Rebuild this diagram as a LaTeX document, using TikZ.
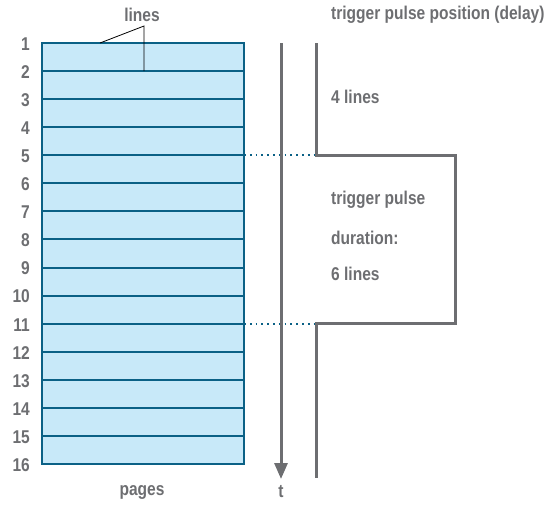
\documentclass[tikz,border=0pt]{standalone}
\usepackage{fontspec}
\newfontfamily\lblfont{Liberation Sans Bold}[FakeStretch=0.84]
\usetikzlibrary{arrows.meta}
\definecolor{txtgray}{HTML}{6D6E71}
\definecolor{tblue}{HTML}{0B6186}
\definecolor{tfill}{HTML}{C8E9F9}
\tikzset{
  lbl/.style={text=txtgray, font=\lblfont\fontsize{18.5}{21}\selectfont, inner sep=0pt},
  num/.style={lbl, anchor=east},
  sig/.style={draw=txtgray, line width=3pt},
  rowline/.style={draw=tblue, line width=2pt},
  dots/.style={draw=tblue, line width=1.8pt, dash pattern=on 1.8pt off 4pt},
  leader/.style={draw=black, line width=0.8pt}
}
\begin{document}
\begin{tikzpicture}[x=1pt,y=-1pt]
\useasboundingbox (0,0) rectangle (545,504);
% table
\fill[tfill] (42,43) rectangle (244,464);
\foreach \k in {1,...,14} {
  \draw[rowline] (42,{43+28.067*\k}) -- (244,{43+28.067*\k});
}
\draw[draw=tblue, line width=2.5pt] (42,43) rectangle (244,464);
\foreach \k in {1,...,16} {
  \node[num] (n\k) at (30,{44+28.067*(\k-1)}) {\k};
}
% coordinates
\coordinate (d5a) at (244,155.3);
\coordinate (d5b) at (316,155.3);
\coordinate (d11a) at (244,323.7);
\coordinate (d11b) at (316,323.7);
\draw[dots] (d5a) -- (d5b);
\draw[dots] (d11a) -- (d11b);
% time arrow
\coordinate (ta) at (281,43);
\coordinate (tb) at (281,479);
\draw[sig, -{Triangle[length=16pt,width=13pt]}] (ta) -- (tb);
% signal
\coordinate (s0) at (316,43);
\coordinate (s1) at (455,155.3);
\coordinate (s2) at (455,323.7);
\coordinate (s3) at (316,478);
\draw[sig, line join=miter] (s0) -- (d5b) -- (s1) -- (s2) -- (d11b) -- (s3);
% labels
\node[lbl] (lines) at (142,15) {lines};
\coordinate (apex) at (144,26);
\coordinate (l1) at (100,43);
\coordinate (l2) at (144,71);
\draw[leader] (l1) -- (apex) -- (l2);
\node[lbl] (pages) at (142,492) {pages};
\node[lbl] (t) at (281,492) {t};
\node[lbl, anchor=west] (tpp) at (331,15) {trigger pulse position (delay)};
\node[lbl, anchor=west] (four) at (331,97) {4 lines};
\node[lbl, anchor=west] (tp) at (331,200) {trigger pulse};
\node[lbl, anchor=west] (dur) at (331,238) {duration:};
\node[lbl, anchor=west] (six) at (331,274) {6 lines};
\end{tikzpicture}
\end{document}
